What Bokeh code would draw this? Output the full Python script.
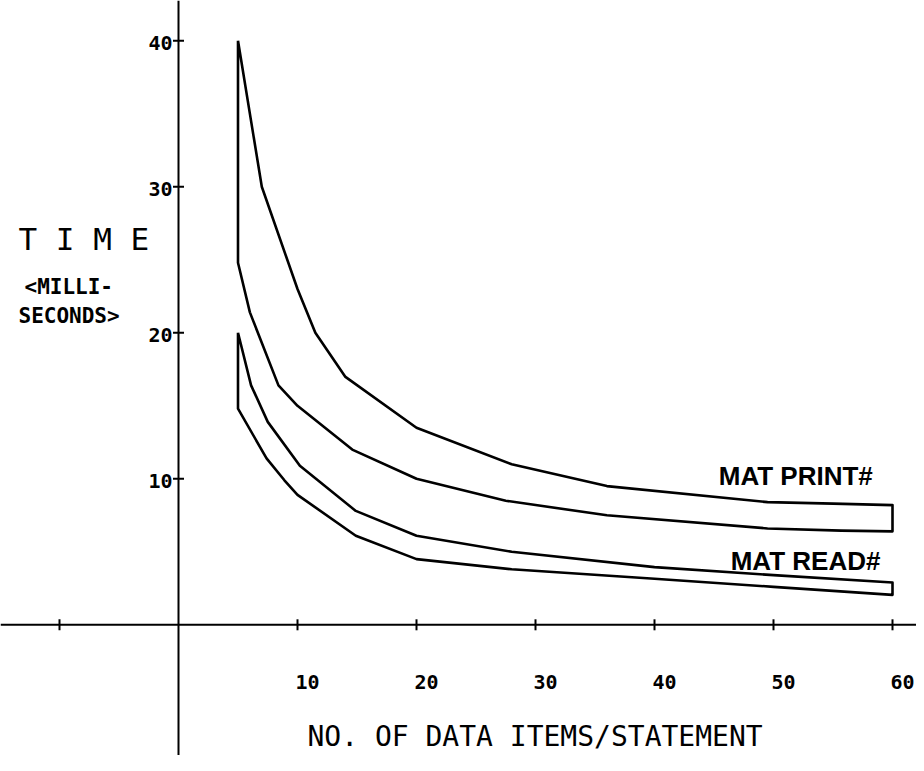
import math
from bokeh.plotting import figure
from bokeh.models import Range1d, Span, Label
from bokeh.core.properties import value
from bokeh.embed import file_html
from bokeh.resources import INLINE

# ---- data ----
print_x_upper = [5, 7, 10, 11.5, 14, 20, 28, 36, 49.5, 55, 60]
print_y_upper = [40, 30, 23, 20, 17, 13.5, 11, 9.5, 8.4, 8.3, 8.2]
print_x_lower = [5, 6, 8.4, 10, 14.6, 20, 27.5, 36, 49.5, 55.7, 60]
print_y_lower = [24.8, 21.4, 16.4, 15, 12, 10, 8.5, 7.5, 6.6, 6.45, 6.4]

read_x_upper = [5, 6.1, 7.5, 10.2, 14.9, 20, 28, 40, 50, 60]
read_y_upper = [20, 16.4, 13.9, 10.9, 7.8, 6.1, 5.0, 3.95, 3.4, 2.9]
read_x_lower = [5, 7.4, 8.9, 10, 14.9, 20, 28, 40, 50, 60]
read_y_lower = [14.8, 11.4, 9.9, 8.9, 6.1, 4.5, 3.8, 3.15, 2.6, 2.05]

x_ticks = [-10, 10, 20, 30, 40, 50, 60]
x_tick_labels = ["", "10", "20", "30", "40", "50", "60"]
y_ticks = [10, 20, 30, 40]
y_tick_labels = ["10", "20", "30", "40"]

x_title = "NO. OF DATA ITEMS/STATEMENT"
y_title = ["T I M E", "<MILLI-", "SECONDS>"]
series_names = ["MAT PRINT#", "MAT READ#"]
series_label_pos = [(45.4, 10.2), (46.4, 4.4)]

W, H = 916, 755
X0, Y0, SX, SY = 178, 624.3, 11.9, 14.6   # pixel position of origin and px per unit
p = figure(width=W, height=H,
           x_range=Range1d(-X0 / SX, (W - X0) / SX),
           y_range=Range1d(-(H - Y0) / SY, Y0 / SY),
           x_axis_type=None, y_axis_type=None,
           toolbar_location=None, output_backend="svg", min_border=0)
p.outline_line_color = None
p.background_fill_color = "white"
p.border_fill_color = "white"

# axes through origin
p.add_layout(Span(location=0, dimension="width", line_color="black", line_width=2))
p.add_layout(Span(location=0, dimension="height", line_color="black", line_width=2))

# tick marks
p.scatter(x=x_ticks, y=[0] * len(x_ticks), marker="dash", size=11, angle=math.pi / 2,
          line_color="black", line_width=2)
p.scatter(x=[0] * len(y_ticks), y=y_ticks, marker="dash", size=11,
          line_color="black", line_width=2)

# tick labels
tick_font = value("DejaVu Sans Mono")
p.text(x=x_ticks, y=[0] * len(x_ticks), text=x_tick_labels, x_offset=10, y_offset=57,
       text_align="center", text_baseline="middle", text_font=tick_font,
       text_font_style="bold", text_font_size="20px", text_color="black")
p.text(x=[0] * len(y_ticks), y=y_ticks, text=y_tick_labels, x_offset=-6, y_offset=2,
       text_align="right", text_baseline="middle", text_font=tick_font,
       text_font_style="bold", text_font_size="20px", text_color="black")

# bands (closed outlines)
def loop(xu, yu, xl, yl):
    xs = list(xu) + list(xl)[::-1] + [xu[0]]
    ys = list(yu) + list(yl)[::-1] + [yu[0]]
    return xs, ys

for xu, yu, xl, yl in [(print_x_upper, print_y_upper, print_x_lower, print_y_lower),
                       (read_x_upper, read_y_upper, read_x_lower, read_y_lower)]:
    xs, ys = loop(xu, yu, xl, yl)
    p.line(xs, ys, line_color="black", line_width=2.6, line_join="round")

# series labels
p.text(x=[pos[0] for pos in series_label_pos], y=[pos[1] for pos in series_label_pos],
       text=series_names, text_align="left", text_baseline="alphabetic",
       text_font=value("Liberation Sans"), text_font_style="bold",
       text_font_size="26px", text_color="black")

# axis titles
p.add_layout(Label(x=307, y=19, x_units="screen", y_units="screen", text=x_title,
                   text_align="left", text_baseline="middle",
                   text_font="DejaVu Sans Mono", text_font_size="28px", text_color="black"))
p.add_layout(Label(x=18, y=517, x_units="screen", y_units="screen", text=y_title[0],
                   text_align="left", text_baseline="middle",
                   text_font="DejaVu Sans Mono", text_font_size="31px", text_color="black"))
p.add_layout(Label(x=24, y=469, x_units="screen", y_units="screen", text=y_title[1],
                   text_align="left", text_baseline="middle", text_font_style="bold",
                   text_font="DejaVu Sans Mono", text_font_size="21px", text_color="black"))
p.add_layout(Label(x=18, y=440, x_units="screen", y_units="screen", text=y_title[2],
                   text_align="left", text_baseline="middle", text_font_style="bold",
                   text_font="DejaVu Sans Mono", text_font_size="21px", text_color="black"))

open("out.html", "w").write(file_html(p, INLINE))
